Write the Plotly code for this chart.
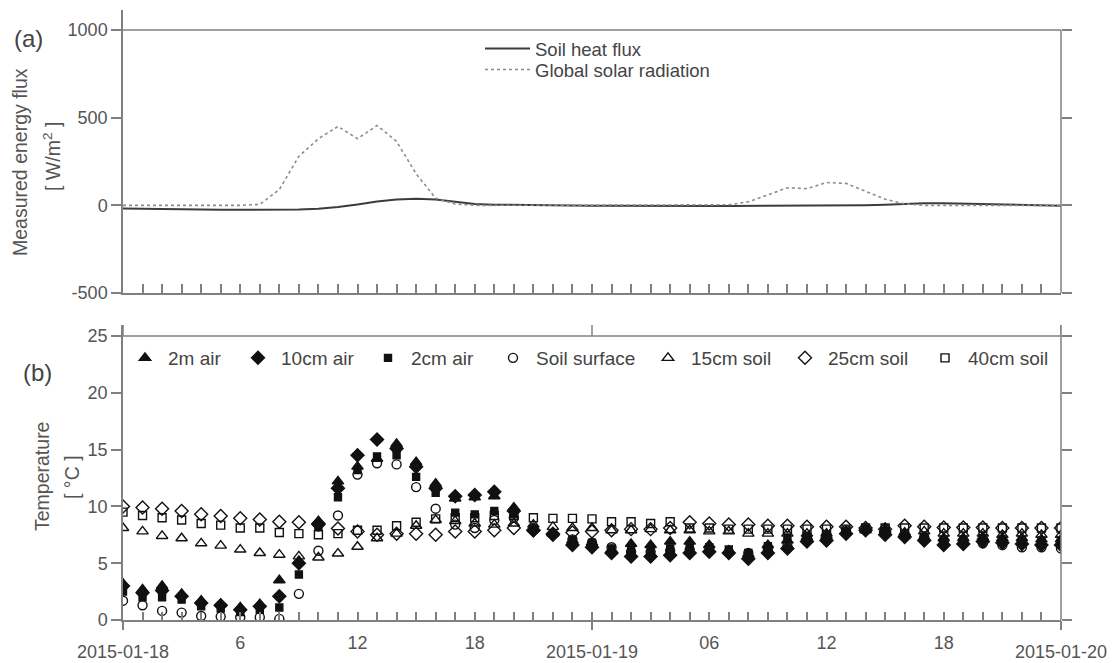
import pandas as pd
import plotly.graph_objects as go

# Hourly time stamps, 2015-01-18 00:00 to 2015-01-20 00:00
hours = pd.date_range("2015-01-18 00:00", periods=49, freq="h")
day_ticks = pd.to_datetime(["2015-01-18", "2015-01-19", "2015-01-20"])
day_labels = ["2015-01-18", "2015-01-19", "2015-01-20"]
hour_ticks = pd.to_datetime(["2015-01-18 06:00", "2015-01-18 12:00", "2015-01-18 18:00",
                             "2015-01-19 06:00", "2015-01-19 12:00", "2015-01-19 18:00"])
hour_labels = ["6", "12", "18", "06", "12", "18"]
flux_ticks = [-500, 0, 500, 1000]
flux_labels = ["-500", "0", "500", "1000"]
temp_ticks = [0, 5, 10, 15, 20, 25]

# (a) energy fluxes [W/m2]
soil_heat_flux = [-18, -20, -22, -23, -24, -25, -25, -26, -26, -24, -20, -10, 5,
                  22, 33, 38, 33, 20, 8, 4, 2, 0, -1, -2, -3, -3, -4, -4, -4,
                  -4, -4, -4, -4, -4, -3, -3, -3, -2, 0, 3, 8, 12, 12, 10, 7,
                  4, 2, 0, -2]
global_solar = [0, 0, 0, 0, 0, 0, 0, 5, 90, 280, 380, 450, 380, 455, 365, 180,
                40, 8, 0, 0, 0, 0, 0, 0, 0, 0, 0, 0, 0, 0, 0, 3, 20, 60, 100,
                95, 130, 125, 80, 35, 8, 0, 0, 0, 0, 0, 0, 0, 0]

# (b) temperatures [degC]
t_air_2m = [3.2, 2.7, 3.0, 2.3, 1.7, 1.4, 1.1, 1.4, 3.5, 5.2, 8.7, 12.2, 13.5,
            14.2, 15.5, 13.9, 12.0, 10.7, 10.8, 10.9, 9.9, 8.0, 7.6, 7.0, 6.8,
            6.2, 6.7, 6.6, 6.9, 6.9, 6.6, 6.1, 5.8, 6.6, 7.0, 7.3, 7.4, 7.8,
            8.0, 7.9, 7.6, 7.3, 7.2, 7.2, 7.3, 7.2, 7.2, 7.1, 7.1]
t_air_10cm = [3.0, 2.4, 2.6, 2.1, 1.5, 1.3, 0.9, 1.2, 2.1, 5.0, 8.5, 11.6, 14.5,
              15.9, 15.1, 13.5, 11.6, 10.9, 11.0, 11.3, 9.6, 7.9, 7.5, 6.6, 6.4,
              5.9, 5.6, 5.6, 5.7, 5.9, 6.0, 5.9, 5.4, 5.9, 6.3, 6.9, 7.0, 7.6,
              7.9, 7.5, 7.3, 7.0, 6.6, 6.7, 6.9, 6.8, 6.7, 6.6, 6.6]
t_air_2cm = [2.5, 2.0, 2.0, 1.8, 1.2, 1.0, 0.7, 0.9, 1.1, 4.0, 8.3, 10.8, 13.2,
             14.4, 14.5, 12.6, 11.2, 9.45, 9.3, 9.6, 9.3, 8.0, 7.6, 7.0, 6.8,
             6.3, 6.2, 6.1, 6.3, 6.4, 6.4, 6.2, 5.9, 6.5, 7.2, 7.4, 7.3, 7.8,
             8.0, 7.8, 7.5, 7.3, 7.1, 7.1, 7.2, 7.1, 7.1, 7.0, 7.0]
t_soil_surface = [1.7, 1.3, 0.8, 0.65, 0.35, 0.3, 0.25, 0.25, 0.1, 2.3, 6.1, 9.2,
                  12.8, 13.8, 13.7, 11.7, 9.8, 8.4, 8.1, 8.8, 9.0, 8.1, 7.6, 7.1,
                  6.8, 6.4, 6.0, 6.0, 6.1, 6.2, 6.2, 6.0, 5.9, 6.2, 6.5, 7.3,
                  7.5, 7.9, 8.0, 8.0, 7.5, 7.3, 7.0, 7.0, 6.75, 6.6, 6.4, 6.4, 6.3]
t_soil_15cm = [8.1, 7.8, 7.4, 7.2, 6.75, 6.55, 6.2, 5.9, 5.75, 5.6, 5.5, 5.85,
               6.45, 7.2, 7.6, 8.3, 8.8, 8.7, 8.5, 8.4, 8.5, 8.4, 8.2, 8.1, 8.1,
               7.9, 7.9, 8.0, 7.9, 7.9, 7.8, 7.8, 7.6, 7.6, 7.6, 7.6, 7.6, 7.8,
               7.9, 8.0, 7.7, 7.8, 7.6, 7.6, 7.6, 7.5, 7.6, 7.5, 7.5]
t_soil_25cm = [10.0, 9.9, 9.8, 9.6, 9.3, 9.15, 8.95, 8.85, 8.65, 8.6, 8.4, 8.05,
               7.8, 7.5, 7.6, 7.6, 7.5, 7.8, 7.8, 7.9, 8.1, 7.9, 7.6, 7.7, 7.8,
               7.9, 8.0, 8.0, 8.1, 8.6, 8.5, 8.4, 8.4, 8.3, 8.3, 8.2, 8.2, 8.2,
               8.1, 8.0, 8.3, 8.2, 8.15, 8.15, 8.15, 8.1, 8.1, 8.1, 8.1]
t_soil_40cm = [9.5, 9.2, 9.0, 8.8, 8.5, 8.35, 8.1, 8.1, 7.7, 7.6, 7.5, 7.6, 7.9,
               7.9, 8.3, 8.6, 8.9, 9.0, 9.0, 9.2, 9.2, 9.0, 8.95, 8.95, 8.9,
               8.65, 8.65, 8.5, 8.65, 8.1, 8.1, 8.0, 8.0, 8.0, 8.0, 8.0, 8.0,
               8.0, 8.1, 8.1, 8.1, 8.1, 8.1, 8.1, 8.1, 8.1, 8.1, 8.1, 8.1]

# Page geometry (pixels)
W, H = 1115, 663
ML, MR, MT, MB = 123, 54, 10, 43
PW, PH = W - ML - MR, H - MT - MB


def px_x(px):
    return (px - ML) / PW


def px_y(py):
    return (H - MB - py) / PH


AX = "#808080"
TXT = "#555555"
LEG = "#444444"
FONT = "Liberation Sans, Arial, sans-serif"
FS = 18
x_range = [hours[0], hours[-1]]

fig = go.Figure()

# (a) fluxes; the dotted series sits on the right-hand twin axis (same scale)
fig.add_trace(go.Scatter(x=hours, y=soil_heat_flux, mode="lines", name="Soil heat flux",
                         line=dict(color="#3c3c3c", width=2), xaxis="x", yaxis="y",
                         legend="legend"))
fig.add_trace(go.Scatter(x=hours, y=global_solar, mode="lines", name="Global solar radiation",
                         line=dict(color="#8c8c8c", width=1.6, dash="dot"), xaxis="x",
                         yaxis="y3", legend="legend3"))

# (b) temperatures; two series are placed on the twin axes that carry
# the day labels and the right-hand ticks (identical ranges).
# Each key entry gets its own legend box so the row keeps its own spacing.
series = [
    ("2m air", t_air_2m, "triangle-up", 10, "x2", "y2", "legend2", 122),
    ("10cm air", t_air_10cm, "diamond", 10, "x2", "y2", "legend4", 235),
    ("2cm air", t_air_2cm, "square", 7, "x2", "y2", "legend5", 365),
    ("Soil surface", t_soil_surface, "circle-open", 9, "x2", "y2", "legend6", 490),
    ("15cm soil", t_soil_15cm, "triangle-up-open", 10, "x2", "y2", "legend7", 645),
    ("25cm soil", t_soil_25cm, "diamond-open", 10, "x2", "y4", "legend8", 782),
    ("40cm soil", t_soil_40cm, "square-open", 8, "x3", "y2", "legend9", 922),
]
legend_boxes = {}
for name, vals, sym, size, xa, ya, leg, leg_px in series:
    fig.add_trace(go.Scatter(x=hours, y=vals, mode="markers", name=name,
                             marker=dict(symbol=sym, size=size, color="#111111",
                                         line=dict(color="#111111", width=1.4)),
                             xaxis=xa, yaxis=ya, legend=leg))
    legend_boxes[leg] = dict(x=px_x(leg_px), y=px_y(339), xanchor="left", yanchor="top",
                             bgcolor="rgba(0,0,0,0)", itemwidth=36,
                             font=dict(family=FONT, size=19, color=LEG))

axis_common = dict(showgrid=False, zeroline=False, tickcolor=AX, linecolor=AX,
                   automargin=False, tickfont=dict(family=FONT, size=FS, color=TXT))

leg_top = dict(xanchor="left", yanchor="top", bgcolor="rgba(0,0,0,0)", itemwidth=45,
               font=dict(family=FONT, size=18.5, color=LEG))

fig.update_layout(
    width=W, height=H, autosize=False,
    margin=dict(l=ML, r=MR, t=MT, b=MB),
    paper_bgcolor="white", plot_bgcolor="white",
    font=dict(family=FONT, size=FS, color=TXT),
    xaxis=dict(domain=[0, 1], anchor="y", range=x_range, type="date",
               ticks="inside", ticklen=9, tickwidth=1.5, dtick=3600000, tick0=hours[0],
               showticklabels=False, showline=True, linewidth=1.5, **axis_common),
    yaxis=dict(domain=[px_y(293), 1], anchor="x", range=[-500, 1114],
               tickvals=flux_ticks, ticktext=flux_labels, ticks="outside", ticklen=10,
               tickwidth=1.5, showline=True, linewidth=1.5, **axis_common),
    yaxis3=dict(overlaying="y", anchor="x", side="right", range=[-500, 1114],
                tickvals=flux_ticks, ticks="outside", ticklen=10, tickwidth=1.5,
                showticklabels=False, showline=False, **axis_common),
    xaxis2=dict(domain=[0, 1], anchor="y2", range=x_range, type="date",
                tickvals=hour_ticks, ticktext=hour_labels,
                ticks="inside", ticklen=8, tickwidth=1.5,
                minor=dict(dtick=3600000, tick0=hours[0], ticks="inside", ticklen=8,
                           tickwidth=1.5, tickcolor=AX),
                showline=True, linewidth=1.5, ticklabelstandoff=6, **axis_common),
    xaxis3=dict(overlaying="x2", anchor="y2", side="bottom", range=x_range, type="date",
                tickvals=day_ticks, ticktext=day_labels, ticks="outside", ticklen=9,
                tickwidth=1.5, showline=False, ticklabelstandoff=6, **axis_common),
    yaxis2=dict(domain=[0, px_y(325)], anchor="x2", range=[0, 25.97],
                tickvals=temp_ticks, ticks="outside", ticklen=10, tickwidth=1.5,
                showline=True, linewidth=1.5, **axis_common),
    yaxis4=dict(overlaying="y2", anchor="x2", side="right", range=[0, 25.97],
                tickvals=temp_ticks, ticks="outside", ticklen=10, tickwidth=1.5,
                showticklabels=False, showline=False, **axis_common),
    legend=dict(x=px_x(480), y=px_y(30), **leg_top),
    legend3=dict(x=px_x(480), y=px_y(51), **leg_top),
    showlegend=True,
)
fig.update_layout(**legend_boxes)

# Frame lines: top edges, right-hand axes, day marks above panel (b)
shapes = [
    dict(type="line", xref="x domain", yref="y", x0=0, x1=1, y0=1000, y1=1000),
    dict(type="line", xref="x domain", yref="y", x0=1, x1=1, y0=-500, y1=1000),
    dict(type="line", xref="x2 domain", yref="y2", x0=0, x1=1, y0=25, y1=25),
    dict(type="line", xref="x2 domain", yref="y2", x0=1, x1=1, y0=0, y1=25.97),
]
for d in day_ticks:
    shapes.append(dict(type="line", xref="x2", yref="y2", x0=d, x1=d, y0=25, y1=25.97))
for s in shapes:
    s["line"] = dict(color=AX, width=1.5)
fig.update_layout(shapes=shapes)

# Panel letters and axis titles
annots = [
    dict(text="(a)", x=px_x(28), y=px_y(39), font=dict(size=24, color=LEG)),
    dict(text="(b)", x=px_x(37), y=px_y(373), font=dict(size=24, color=LEG)),
    dict(text="Measured energy flux", x=px_x(20), y=px_y(162), textangle=-90),
    dict(text="[ W/m<sup>2</sup> ]", x=px_x(52), y=px_y(157), textangle=-90),
    dict(text="Temperature", x=px_x(42), y=px_y(477), textangle=-90),
    dict(text="[ °C ]", x=px_x(72), y=px_y(477), textangle=-90),
]
for a in annots:
    a.update(xref="paper", yref="paper", showarrow=False, xanchor="center", yanchor="middle")
    f = a.setdefault("font", {})
    f.setdefault("family", FONT)
    f.setdefault("size", 19.5)
    f.setdefault("color", TXT)
fig.update_layout(annotations=annots)

fig.write_html("out.html")
